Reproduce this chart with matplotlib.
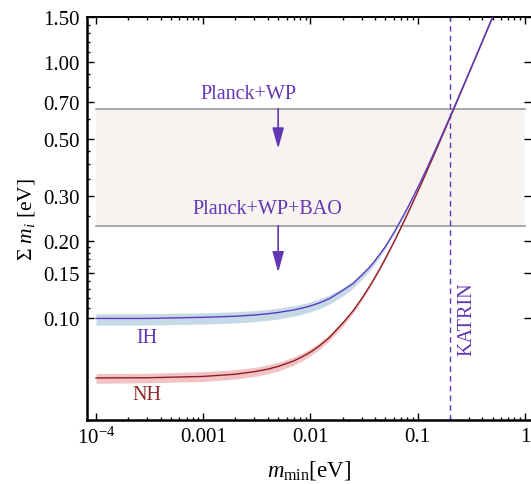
import matplotlib
matplotlib.use("Agg")
import matplotlib.pyplot as plt
from matplotlib.ticker import FixedLocator, NullFormatter, NullLocator

plt.rcParams['font.family'] = ['Liberation Serif', 'DejaVu Serif']
plt.rcParams['mathtext.fontset'] = 'custom'
plt.rcParams['mathtext.rm'] = 'Liberation Serif'
plt.rcParams['mathtext.it'] = 'Liberation Serif:italic'

# lightest neutrino mass (eV)
m_min = [1e-4, 3e-4, 1e-3, 2e-3, 3e-3, 4e-3, 5e-3, 7e-3, 8.5e-3, 0.01,
         0.012, 0.015, 0.02, 0.025, 0.03, 0.035, 0.04, 0.045, 0.05, 0.06,
         0.07, 0.08, 0.1, 0.12, 0.15, 0.2, 0.25, 0.3, 0.4, 0.5, 0.55]

# normal hierarchy: central, lower, upper
nh_sum = [0.0584, 0.0585, 0.0592, 0.0604, 0.0618, 0.0632, 0.0648, 0.0681, 0.0709, 0.0737,
          0.0777, 0.0840, 0.0956, 0.1069, 0.1191, 0.1317, 0.1446, 0.1577, 0.1711, 0.1984,
          0.2263, 0.2545, 0.3120, 0.3701, 0.4582, 0.6062, 0.7550, 0.9042, 1.2031, 1.5025, 1.6523]
nh_lo = [0.0557, 0.0559, 0.0566, 0.0578, 0.0592, 0.0606, 0.0622, 0.0656, 0.0683, 0.0712,
         0.0752, 0.0816, 0.0928, 0.1046, 0.1169, 0.1296, 0.1426, 0.1558, 0.1693, 0.1968,
         0.2248, 0.2532, 0.3108, 0.3692, 0.4574, 0.6056, 0.7545, 0.9038, 1.2028, 1.5023, 1.6520]
nh_hi = [0.0607, 0.0609, 0.0618, 0.0629, 0.0642, 0.0657, 0.0672, 0.0706, 0.0733, 0.0762,
         0.0801, 0.0864, 0.0975, 0.1091, 0.1212, 0.1337, 0.1465, 0.1596, 0.1729, 0.2000,
         0.2277, 0.2559, 0.3131, 0.3711, 0.4590, 0.6068, 0.7555, 0.9046, 1.2035, 1.5028, 1.6526]

# inverted hierarchy: central, lower, upper
ih_sum = [0.0998, 0.0998, 0.1008, 0.1018, 0.1029, 0.1041, 0.1053, 0.1077, 0.1097, 0.1117,
          0.1146, 0.1192, 0.1285, 0.1366, 0.1472, 0.1569, 0.1679, 0.1793, 0.1905, 0.2160,
          0.2424, 0.2685, 0.3235, 0.3799, 0.4662, 0.6122, 0.7599, 0.9082, 1.2062, 1.5050, 1.6548]
ih_lo = [0.0939, 0.0941, 0.0948, 0.0959, 0.0970, 0.0981, 0.0993, 0.1018, 0.1038, 0.1059,
         0.1088, 0.1135, 0.1220, 0.1313, 0.1414, 0.1520, 0.1633, 0.1750, 0.1871, 0.2123,
         0.2385, 0.2655, 0.3209, 0.3777, 0.4643, 0.6109, 0.7587, 0.9073, 1.2055, 1.5044, 1.6544]
ih_hi = [0.1040, 0.1042, 0.1049, 0.1060, 0.1071, 0.1082, 0.1094, 0.1119, 0.1138, 0.1158,
         0.1187, 0.1232, 0.1314, 0.1403, 0.1500, 0.1603, 0.1711, 0.1825, 0.1942, 0.2187,
         0.2444, 0.2708, 0.3254, 0.3815, 0.4675, 0.6133, 0.7607, 0.9089, 1.2067, 1.5054, 1.6552]

# cosmological bounds and KATRIN
planck_wp = 0.66
planck_wp_bao = 0.23
katrin = 0.2
band_x = [1e-4, 1.0]

yticks = [0.10, 0.15, 0.20, 0.30, 0.50, 0.70, 1.00, 1.50]
yminor = [0.11, 0.12, 0.13, 0.14, 0.16, 0.17, 0.18, 0.19, 0.25, 0.35, 0.4, 0.45,
          0.6, 0.8, 0.9, 1.1, 1.2, 1.3, 1.4]
xticks = [1e-4, 1e-3, 1e-2, 1e-1, 1.0]
xticklabels = [r'$10^{-4}$', '0.001', '0.01', '0.1', '1']
xminor = [k * d for d in [1e-4, 1e-3, 1e-2, 1e-1] for k in range(2, 10)]

purple = '#6236b4'
ih_line = '#5a3cc0'
nh_line = '#8e1c22'
ih_band = '#c5d9e7'
nh_band = '#f2c3c5'

fig = plt.figure(figsize=(5.31, 4.85), dpi=100)
ax = fig.add_axes([0.1638, 0.132, 0.8362, 0.830])
ax.set_xscale('log')
ax.set_yscale('log')

ax.fill_between(band_x, planck_wp_bao, planck_wp, color='#f7f3f1', lw=0, zorder=1)
ax.plot(band_x, [planck_wp] * 2, color='#9a9a9a', lw=1.2, zorder=2)
ax.plot(band_x, [planck_wp_bao] * 2, color='#9a9a9a', lw=1.2, zorder=2)

ax.fill_between(m_min, nh_lo, nh_hi, color=nh_band, lw=0, zorder=3)
ax.fill_between(m_min, ih_lo, ih_hi, color=ih_band, lw=0, zorder=3)
ax.plot(m_min, nh_sum, color=nh_line, lw=1.0, zorder=4)
ax.plot(m_min, ih_sum, color=ih_line, lw=1.0, zorder=4)

ax.axvline(katrin, color=purple, lw=1.0, ls=(0, (4, 3)), zorder=2)

arrow = dict(arrowstyle='-|>,head_width=0.25,head_length=0.9', color=purple, lw=1.2,
             mutation_scale=14, shrinkA=0, shrinkB=0)
ax.annotate('', xy=(0.005, 0.46), xytext=(0.005, planck_wp), arrowprops=arrow, zorder=5)
ax.annotate('', xy=(0.005, 0.151), xytext=(0.005, planck_wp_bao), arrowprops=arrow, zorder=5)

ax.text(0.00262, 0.754, 'Planck+WP', color=purple, fontsize=14.5, ha='center', va='center')
ax.text(0.00394, 0.269, 'Planck+WP+BAO', color=purple, fontsize=14.5, ha='center', va='center')
ax.text(0.286, 0.1, 'KATRIN', color=purple, fontsize=14.5, rotation=90, ha='center', va='center')
ax.text(3.0e-4, 0.0837, 'IH', color=purple, fontsize=14.5, ha='center', va='center')
ax.text(3.0e-4, 0.0505, 'NH', color='#8e2a2a', fontsize=14.5, ha='center', va='center')

ax.set_xlim(10 ** -4.084, 10 ** 0.057)
ax.set_ylim(0.04, 1.5)

ax.xaxis.set_major_locator(FixedLocator(xticks))
ax.xaxis.set_minor_locator(FixedLocator(xminor))
ax.xaxis.set_minor_formatter(NullFormatter())
ax.set_xticklabels(xticklabels)
ax.yaxis.set_major_locator(FixedLocator(yticks))
ax.set_yticklabels(['%.2f' % v for v in yticks])
ax.yaxis.set_minor_locator(FixedLocator(yminor))
ax.yaxis.set_minor_formatter(NullFormatter())

ax.tick_params(which='both', direction='in', top=True, right=True, labelsize=15, width=1.0)
ax.tick_params(which='major', length=5, pad=5)
ax.tick_params(which='minor', length=2.5)
ax.tick_params(axis='y', which='minor', right=False)
ax.spines['right'].set_visible(False)
for side in ['left', 'bottom']:
    ax.spines[side].set_linewidth(1.8)
ax.spines['top'].set_linewidth(1.4)

ax.set_xlabel(r'$m_{\rm min}$[eV]', fontsize=16.5, labelpad=7)
ax.set_ylabel(r'$\Sigma\ m_i$ [eV]', fontsize=15.5, labelpad=5)

fig.savefig('out.png', dpi=100)
